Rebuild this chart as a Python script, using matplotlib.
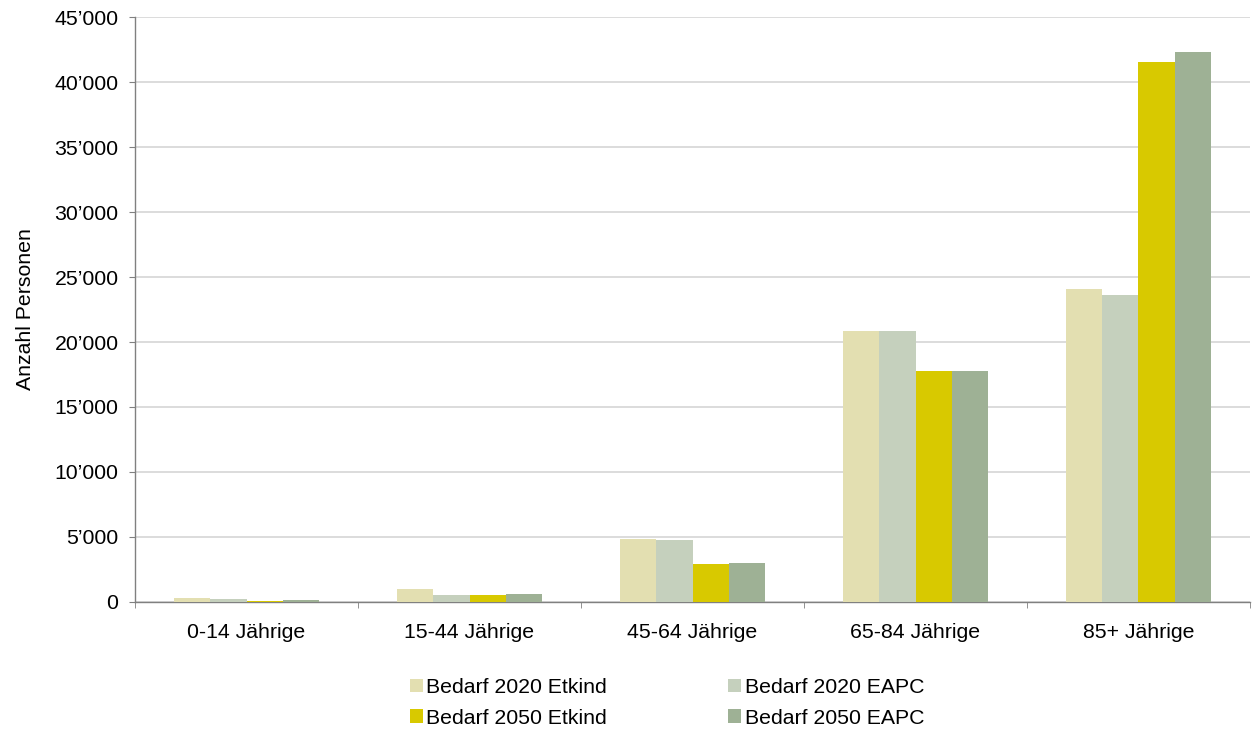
import matplotlib
matplotlib.use("Agg")
import matplotlib.pyplot as plt
import numpy as np
from matplotlib.ticker import FuncFormatter, MultipleLocator, FixedLocator
from matplotlib.patches import Patch

plt.rcParams['font.family'] = ['Liberation Sans', 'DejaVu Sans']

categories = ["0-14 Jährige", "15-44 Jährige", "45-64 Jährige", "65-84 Jährige", "85+ Jährige"]
series_names = ["Bedarf 2020 Etkind", "Bedarf 2020 EAPC", "Bedarf 2050 Etkind", "Bedarf 2050 EAPC"]
bedarf_2020_etkind = [290, 970, 4870, 20850, 24050]
bedarf_2020_eapc = [200, 500, 4730, 20850, 23650]
bedarf_2050_etkind = [100, 500, 2960, 17780, 41560]
bedarf_2050_eapc = [190, 640, 2990, 17740, 42300]
colors = ["#e3dfb1", "#c5d0bd", "#d8c900", "#9eb195"]

series = [bedarf_2020_etkind, bedarf_2020_eapc, bedarf_2050_etkind, bedarf_2050_eapc]
FS = 15.3

fig = plt.figure(figsize=(12.54, 7.31), dpi=100)
ax = fig.add_axes([0.1077, 0.1765, 0.8891, 0.8002])

x = np.arange(len(categories))
width = 0.162
for i, (vals, col) in enumerate(zip(series, colors)):
    ax.bar(x + (i - 1.5) * width, vals, width=width, color=col, zorder=3, label=series_names[i])

ax.set_xlim(-0.5, len(categories) - 0.5)
ax.set_ylim(0, 45000)
ax.yaxis.set_major_locator(MultipleLocator(5000))
ax.yaxis.set_major_formatter(FuncFormatter(lambda v, p: "0" if v == 0 else f"{int(v):,}".replace(",", "\u2019")))
ax.grid(axis='y', color='#d9d9d9', linewidth=1.3, zorder=0)

ax.set_xticks(x)
ax.set_xticklabels(categories)
ax.xaxis.set_minor_locator(FixedLocator(np.arange(-0.5, len(categories), 1.0)))
ax.tick_params(axis='x', which='major', length=0, pad=15, labelsize=FS, colors='#000000')
ax.tick_params(axis='x', which='minor', length=4.5, color='#808080', direction='out')
ax.tick_params(axis='y', length=4.5, color='#808080', labelsize=FS, pad=7.5)

for s in ['top', 'right']:
    ax.spines[s].set_visible(False)
for s in ['left', 'bottom']:
    ax.spines[s].set_color('#808080')
    ax.spines[s].set_linewidth(1.0)

ax.set_ylabel("Anzahl Personen", fontsize=FS)
ax.yaxis.set_label_coords(-0.090, 0.5)

# legend filled column-wise: 2020 entries on the top row, 2050 on the bottom row
order = [0, 2, 1, 3]
handles = [Patch(facecolor=colors[k], edgecolor='none') for k in order]
labels = [series_names[k] for k in order]
fig.legend(handles, labels, ncol=2, loc='center', bbox_to_anchor=(0.532, 0.0385),
           frameon=False, fontsize=FS, handlelength=0.62, handleheight=0.62,
           handletextpad=0.15, columnspacing=5.7, labelspacing=0.55)

fig.savefig("out.png", dpi=100)
